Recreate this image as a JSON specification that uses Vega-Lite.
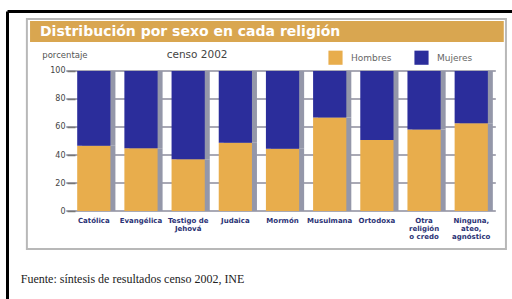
{
  "$schema": "https://vega.github.io/schema/vega-lite/v6.json",
  "width": 505,
  "height": 288,
  "autosize": "none",
  "padding": {"left": 7, "top": 11, "right": 0, "bottom": 0},
  "background": "white",
  "config": {"view": {"stroke": null}, "font": "DejaVu Sans"},
  "datasets": {
    "bars": [
      {"religion": "Católica", "sexo": "Hombres", "pct": 46.6},
      {"religion": "Católica", "sexo": "Mujeres", "pct": 53.4},
      {"religion": "Evangélica", "sexo": "Hombres", "pct": 44.8},
      {"religion": "Evangélica", "sexo": "Mujeres", "pct": 55.2},
      {"religion": "Testigo de|Jehová", "sexo": "Hombres", "pct": 36.9},
      {"religion": "Testigo de|Jehová", "sexo": "Mujeres", "pct": 63.1},
      {"religion": "Judaica", "sexo": "Hombres", "pct": 48.8},
      {"religion": "Judaica", "sexo": "Mujeres", "pct": 51.2},
      {"religion": "Mormón", "sexo": "Hombres", "pct": 44.5},
      {"religion": "Mormón", "sexo": "Mujeres", "pct": 55.5},
      {"religion": "Musulmana", "sexo": "Hombres", "pct": 66.7},
      {"religion": "Musulmana", "sexo": "Mujeres", "pct": 33.3},
      {"religion": "Ortodoxa", "sexo": "Hombres", "pct": 50.7},
      {"religion": "Ortodoxa", "sexo": "Mujeres", "pct": 49.3},
      {"religion": "Otra|religión|o credo", "sexo": "Hombres", "pct": 58.3},
      {"religion": "Otra|religión|o credo", "sexo": "Mujeres", "pct": 41.7},
      {"religion": "Ninguna,|ateo,|agnóstico", "sexo": "Hombres", "pct": 62.6},
      {"religion": "Ninguna,|ateo,|agnóstico", "sexo": "Mujeres", "pct": 37.4}
    ],
    "grid": [{"v": 0}, {"v": 20}, {"v": 40}, {"v": 60}, {"v": 80}, {"v": 100}],
    "one": [{"title": "Distribución por sexo en cada religión", "ytitle": "porcentaje", "sub": "censo 2002", "source": "Fuente: síntesis de resultados censo 2002, INE"}]
  },
  "resolve": {"axis": {"x": "independent", "y": "independent"}},
  "layer": [
    {
      "data": {"name": "one"},
      "mark": {"type": "rect", "fill": "white", "stroke": "#b8b8b8", "strokeWidth": 2},
      "encoding": {
        "x": {"datum": "Católica", "type": "nominal", "bandPosition": -1.515,
              "scale": {"type": "band", "domain": ["Católica", "Evangélica", "Testigo de|Jehová", "Judaica", "Mormón", "Musulmana", "Ortodoxa", "Otra|religión|o credo", "Ninguna,|ateo,|agnóstico"], "paddingInner": 0.296, "paddingOuter": 1.032, "align": 0.744},
              "axis": {"orient": "top", "title": null, "labels": false, "ticks": false, "grid": false, "domain": true, "domainColor": "#000", "domainWidth": 3, "zindex": 1}},
        "x2": {"datum": "Ninguna,|ateo,|agnóstico", "bandPosition": 1.545},
        "y": {"datum": 137.14, "type": "quantitative",
              "scale": {"domain": [-62.857, 142.857], "nice": false, "zero": false},
              "axis": {"orient": "left", "title": null, "labels": false, "ticks": false, "grid": false, "domain": true, "domainColor": "#000", "domainWidth": 3, "zindex": 1}},
        "y2": {"datum": -27.14}
      }
    },
    {
      "data": {"name": "one"},
      "mark": {"type": "rect", "fill": "#d9a650"},
      "encoding": {
        "x": {"datum": "Católica", "type": "nominal", "bandPosition": -1.42, "axis": null},
        "x2": {"datum": "Ninguna,|ateo,|agnóstico", "bandPosition": 1.48},
        "y": {"datum": 135.71, "type": "quantitative", "axis": null},
        "y2": {"datum": 120.71}
      }
    },
    {
      "data": {"name": "one"},
      "mark": {"type": "text", "color": "white", "fontWeight": "bold", "fontSize": 14, "align": "left", "baseline": "middle"},
      "encoding": {
        "text": {"field": "title"},
        "x": {"datum": "Católica", "type": "nominal", "bandPosition": -1.12, "axis": null},
        "y": {"datum": 128.2, "type": "quantitative", "axis": null}
      }
    },
    {
      "data": {"name": "one"},
      "mark": {"type": "text", "color": "#555", "fontSize": 8.5, "align": "center", "baseline": "middle"},
      "encoding": {
        "text": {"field": "ytitle"},
        "x": {"datum": "Católica", "type": "nominal", "bandPosition": -0.37, "axis": null},
        "y": {"datum": 111.4, "type": "quantitative", "axis": null}
      }
    },
    {
      "data": {"name": "one"},
      "mark": {"type": "text", "color": "#444", "fontSize": 10.5, "align": "center", "baseline": "middle"},
      "encoding": {
        "text": {"field": "sub"},
        "x": {"datum": "Testigo de|Jehová", "type": "nominal", "bandPosition": 0.77, "axis": null},
        "y": {"datum": 111.4, "type": "quantitative", "axis": null}
      }
    },
    {
      "data": {"name": "one"},
      "mark": {"type": "text", "color": "#222", "font": "Liberation Serif", "fontSize": 12, "align": "left", "baseline": "middle"},
      "encoding": {
        "text": {"field": "source"},
        "x": {"datum": "Católica", "type": "nominal", "bandPosition": -1.7, "axis": null},
        "y": {"datum": -48.57, "type": "quantitative", "axis": null}
      }
    },
    {
      "data": {"name": "grid"},
      "mark": {"type": "rule", "color": "#8d8d9c", "strokeWidth": 1.5},
      "encoding": {
        "y": {"field": "v", "type": "quantitative", "axis": null},
        "x": {"datum": "Católica", "type": "nominal", "bandPosition": -0.33, "axis": null},
        "x2": {"datum": "Ninguna,|ateo,|agnóstico", "bandPosition": 1.24}
      }
    },
    {
      "data": {"name": "bars"},
      "mark": {"type": "bar", "color": "#9497a9", "xOffset": 5},
      "encoding": {
        "x": {"field": "religion", "type": "nominal", "axis": null},
        "y": {"field": "pct", "type": "quantitative", "stack": "zero", "axis": null}
      }
    },
    {
      "data": {"name": "bars"},
      "mark": {"type": "bar"},
      "encoding": {
        "x": {"field": "religion", "type": "nominal",
              "axis": {"orient": "bottom", "offset": -88, "title": null, "labels": true, "labelAngle": 0, "ticks": false, "domain": false, "grid": false, "zindex": 2,
                       "labelExpr": "split(datum.label, '|')", "labelFontSize": 7, "labelFontWeight": "bold", "labelColor": "#2b3275", "labelPadding": 5, "labelLineHeight": 8, "labelOverlap": false, "labelBound": false}},
        "y": {"field": "pct", "type": "quantitative", "stack": "zero",
              "axis": {"orient": "left", "offset": -68, "title": null, "labels": true, "values": [0, 20, 40, 60, 80, 100], "grid": false, "domain": false, "ticks": true, "zindex": 2, "tickSize": 8, "tickColor": "#777", "tickWidth": 1.5, "labelFontSize": 8, "labelColor": "#444", "labelPadding": 2, "labelOverlap": false, "labelBound": false}},
        "order": {"field": "sexo", "sort": "ascending"},
        "color": {"field": "sexo", "type": "nominal",
                  "scale": {"domain": ["Hombres", "Mujeres"], "range": ["#e8ad4c", "#2b2d9b"]},
                  "legend": {"orient": "top-right", "offset": 39, "direction": "horizontal", "title": null, "symbolType": "square", "symbolSize": 200, "symbolStrokeWidth": 0, "labelFontSize": 9, "labelColor": "#666", "columnPadding": 22, "labelOffset": 8}}
      }
    }
  ]
}
